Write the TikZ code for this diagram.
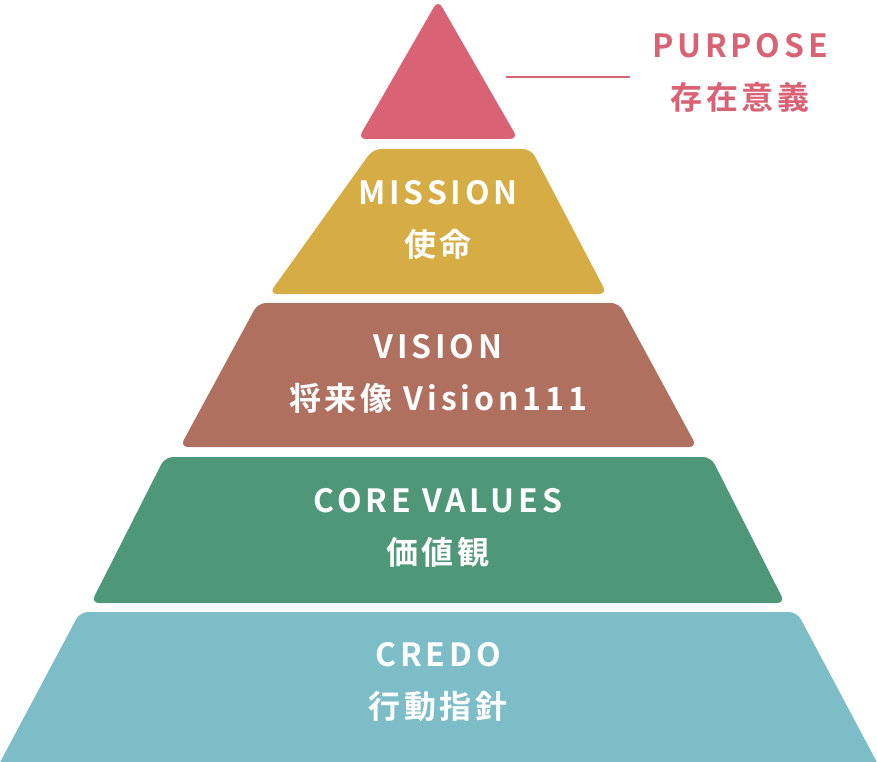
\documentclass[tikz,border=0pt]{standalone}
\usepackage{fontspec}
\setmainfont{Noto Sans CJK JP}[BoldFont={* Bold}]
\definecolor{cpink}{HTML}{D96375}
\definecolor{cmust}{HTML}{D6AC44}
\definecolor{cbrown}{HTML}{B07060}
\definecolor{cgreen}{HTML}{4E9778}
\definecolor{cteal}{HTML}{7DBDC8}
\begin{document}
\begin{tikzpicture}[x=1pt,y=-1pt,
  tier/.style={rounded corners=8pt},
  lbl/.style={text=white,font=\fontsize{32}{52}\selectfont\bfseries\addfontfeature{LetterSpace=12},align=center,inner sep=0},
  plbl/.style={text=cpink,font=\fontsize{32}{52}\selectfont\bfseries\addfontfeature{LetterSpace=12},align=center,inner sep=0}]
\useasboundingbox (0,0) rectangle (877,762);
\fill[cpink,tier] (438,0) -- (518,139) -- (358,139) -- cycle;
\fill[cmust,tier] (373,149) -- (531,149) -- (607,294) -- (269,294) -- cycle;
\fill[cbrown,tier] (258,303) -- (619,303) -- (697,447) -- (180,447) -- cycle;
\fill[cgreen,tier] (165,457) -- (711,457) -- (785,603) -- (91,603) -- cycle;
\fill[cteal,tier] (80,612) -- (797,612) -- (880,768) -- (-3,768) -- cycle;
\node[lbl] (m) at (438,220) {MISSION\\使命};
\node[lbl] (v) at (438,374) {VISION\\将来像 Vision111};
\node[lbl] (c) at (438,528) {CORE VALUES\\価値観};
\node[lbl] (d) at (438,682) {CREDO\\行動指針};
\node[plbl] (p) at (740,73) {PURPOSE\\存在意義};
\coordinate (a) at (506,77);
\coordinate (b) at (630,77);
\draw[cpink,line width=1.2pt] (a) -- (b);
\end{tikzpicture}
\end{document}
